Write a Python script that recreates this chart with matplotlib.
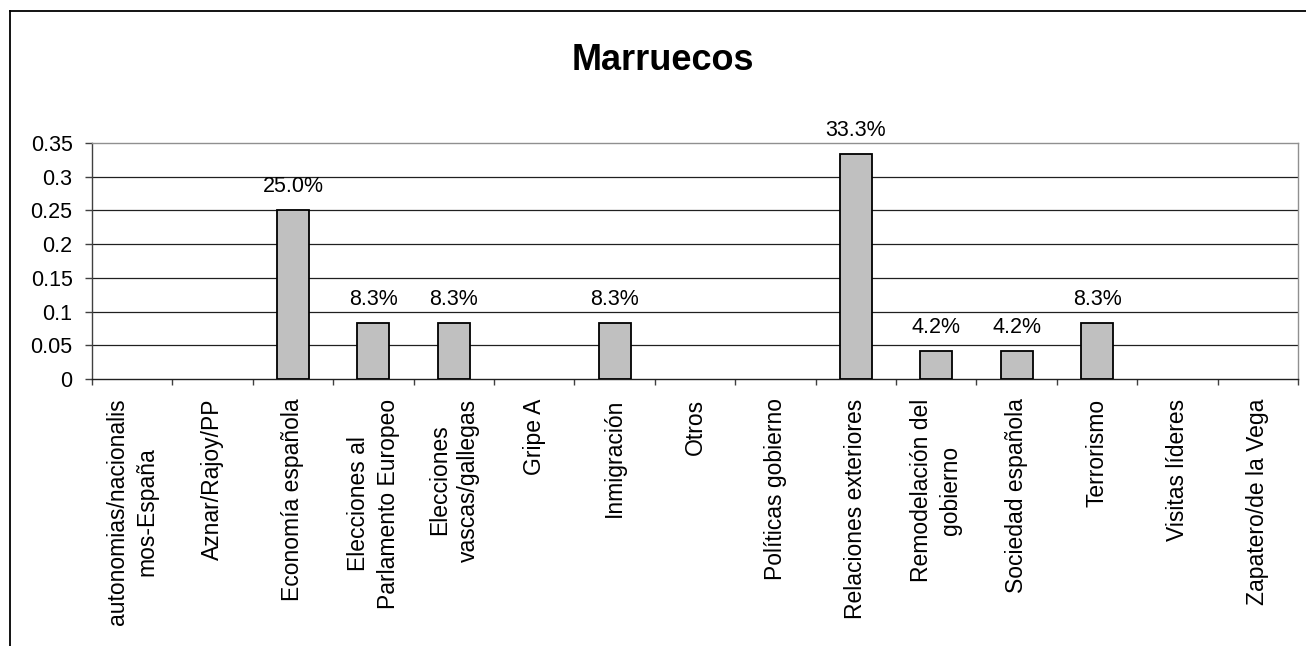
import numpy as np
import matplotlib.pyplot as plt
from matplotlib.lines import Line2D

categories = [
    "autonomias/nacionalis\nmos-España",
    "Aznar/Rajoy/PP",
    "Economía española",
    "Elecciones al\nParlamento Europeo",
    "Elecciones\nvascas/gallegas",
    "Gripe A",
    "Inmigración",
    "Otros",
    "Políticas gobierno",
    "Relaciones exteriores",
    "Remodelación del\ngobierno",
    "Sociedad española",
    "Terrorismo",
    "Visitas líderes",
    "Zapatero/de la Vega",
]
values = [0, 0, 0.25, 0.0833, 0.0833, 0, 0.0833, 0, 0, 0.3333, 0.0417, 0.0417, 0.0833, 0, 0]
title = "Marruecos"

plt.rcParams['font.family'] = ['Liberation Sans', 'DejaVu Sans']

W, H = 1306, 646
fig = plt.figure(figsize=(W / 100, H / 100), dpi=100)
ax = fig.add_axes([92 / W, 1 - 379 / H, (1298 - 92) / W, (379 - 143) / H])

x = np.arange(len(categories))
# empty categories get no visible bar (as in the original spreadsheet chart)
edge_w = [1.3 if v > 0 else 0 for v in values]
ax.bar(x, values, width=0.4, color='#c0c0c0', edgecolor='black', linewidth=edge_w, zorder=3)

for xi, v in zip(x, values):
    if v > 0:
        ax.annotate(f"{v * 100:.1f}%", (xi, v), xytext=(0, 13), textcoords='offset points',
                    ha='center', va='baseline', fontsize=15.5)

ax.set_xlim(-0.5, len(categories) - 0.5)
ax.set_ylim(0, 0.35)
ax.set_yticks(np.arange(0, 0.351, 0.05))
ax.set_yticklabels(["0", "0.05", "0.1", "0.15", "0.2", "0.25", "0.3", "0.35"])
for yv in np.arange(0.05, 0.31, 0.05):
    ax.axhline(yv, color='#202020', linewidth=0.9, zorder=1)

ax.set_xticks(x)
ax.set_xticklabels(categories, rotation=90, ha='center', va='top', multialignment='center',
                   linespacing=1.35)
ax.set_xticks(np.arange(-0.5, len(categories), 1), minor=True)
ax.tick_params(axis='x', which='major', length=0, pad=14, labelsize=16.5)
ax.tick_params(axis='x', which='minor', length=4.3, width=1, color='#404040', direction='out')
ax.tick_params(axis='y', length=5, width=1, pad=9, labelsize=15.5, color='#404040')

ax.spines['left'].set_color('#404040')
ax.spines['bottom'].set_color('#202020')
ax.spines['top'].set_color('#909090')
ax.spines['right'].set_color('#909090')
for s in ax.spines.values():
    s.set_linewidth(1)

fig.text(663 / W, 1 - 70 / H, title, ha='center', va='baseline', fontsize=26, fontweight='bold')

# outer chart frame (cropped at right and bottom)
fig.add_artist(Line2D([9.5 / W, 9.5 / W], [0, 1 - 10.5 / H], transform=fig.transFigure,
                      color='black', linewidth=1.3))
fig.add_artist(Line2D([9.5 / W, 1], [1 - 10.5 / H, 1 - 10.5 / H], transform=fig.transFigure,
                      color='black', linewidth=1.3))

fig.savefig("out.png", dpi=100)
